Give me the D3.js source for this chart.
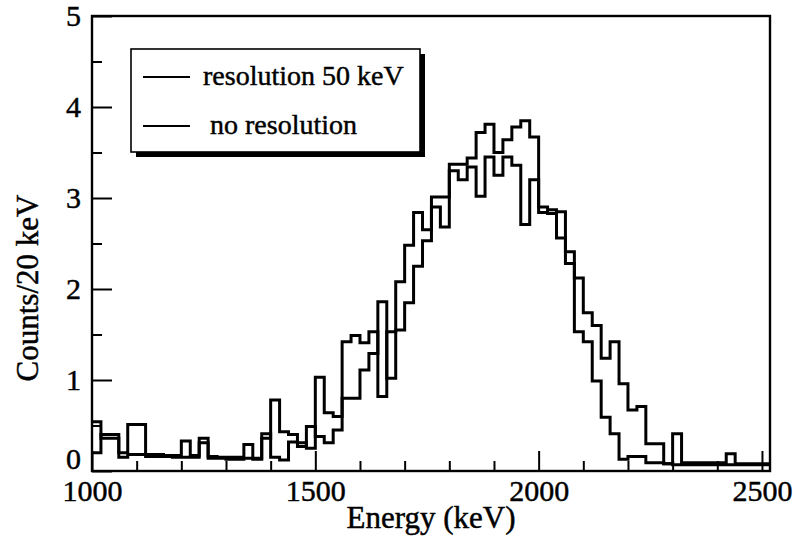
<!DOCTYPE html>
<html>
<head>
<meta charset="utf-8">
<script src="https://cdn.jsdelivr.net/npm/d3@7"></script>
<style>
  body { margin: 0; background: #fff; }
  svg text { font-family: "Liberation Serif", "Times New Roman", serif; fill: #000; stroke: #000; stroke-width: 0.45px; }
</style>
</head>
<body>
<svg id="chart" width="793" height="544"></svg>
<script>
// Energy spectra in 20 keV bins starting at 1000 keV
const binStart = 1000;
const binWidth = 20;

const resolution50 = [
  0.54, 0.36, 0.36, 0.15, 0.18, 0.18, 0.16, 0.16, 0.16, 0.15,
  0.15, 0.15, 0.31, 0.14, 0.14, 0.13, 0.13, 0.14, 0.13, 0.36,
  0.78, 0.43, 0.40, 0.31, 0.25, 1.03, 0.64, 0.60, 1.42, 1.49,
  1.41, 1.53, 0.82, 1.53, 2.08, 2.48, 2.84, 2.65, 3.01, 3.01,
  3.37, 3.37, 3.44, 3.72, 3.81, 3.50, 3.64, 3.78, 3.85, 3.67,
  2.90, 2.87, 2.85, 2.41, 2.12, 1.74, 1.60, 1.24, 1.42, 0.96,
  0.67, 0.71, 0.30, 0.30, 0.08, 0.41, 0.09, 0.09, 0.09, 0.09,
  0.09, 0.19, 0.08, 0.08, 0.08, 0.08
];

const noResolution = [
  0.20, 0.40, 0.40, 0.20, 0.51, 0.51, 0.18, 0.18, 0.17, 0.17,
  0.33, 0.17, 0.36, 0.16, 0.15, 0.15, 0.15, 0.29, 0.14, 0.41,
  0.15, 0.12, 0.32, 0.27, 0.49, 0.38, 0.31, 0.45, 0.80, 0.80,
  1.11, 1.29, 1.86, 1.02, 1.55, 1.85, 2.25, 2.53, 2.90, 2.68,
  3.30, 3.20, 3.34, 3.02, 3.45, 3.25, 3.45, 3.36, 2.71, 3.20,
  2.84, 2.83, 2.56, 2.28, 1.53, 1.42, 0.99, 0.59, 0.41, 0.13,
  0.16, 0.16, 0.09, 0.09, 0.08, 0.07, 0.07, 0.07, 0.07, 0.07,
  0.07, 0.07, 0.07, 0.07, 0.07, 0.07
];

const xMajorTicks = [1000, 1500, 2000, 2500];
const xMinorTicks = [1100, 1200, 1300, 1400, 1600, 1700, 1800, 1900, 2100, 2200, 2300, 2400];
const yMajorTicks = [0, 1, 2, 3, 4, 5];
const yMinorTicks = [0.5, 1.5, 2.5, 3.5, 4.5];
const seriesLabels = ["resolution 50 keV", " no resolution"];

const svg = d3.select("#chart");
const plotLeft = 92, plotRight = 770, plotTop = 16, plotBottom = 471;

const x = d3.scaleLinear().domain([1000, 2518]).range([plotLeft, plotRight]);
const y = d3.scaleLinear().domain([0, 5]).range([plotBottom, plotTop]);

svg.append("clipPath").attr("id", "plotClip")
  .append("rect")
  .attr("x", plotLeft).attr("y", plotTop)
  .attr("width", plotRight - plotLeft).attr("height", plotBottom - plotTop);

// step outline for one histogram
function stepPoints(values) {
  const pts = values.map((v, i) => [binStart + i * binWidth, v]);
  pts.push([binStart + values.length * binWidth, values[values.length - 1]]);
  return pts;
}
const stepLine = d3.line()
  .x(d => x(d[0]))
  .y(d => y(d[1]))
  .curve(d3.curveStepAfter);

const plot = svg.append("g").attr("clip-path", "url(#plotClip)");
[resolution50, noResolution].forEach(vals => {
  plot.append("path")
    .attr("d", stepLine(stepPoints(vals)))
    .attr("fill", "none")
    .attr("stroke", "#000")
    .attr("stroke-width", 3)
    .attr("stroke-linejoin", "miter");
});

// axes with inward ticks
const tickFont = 30;
const xMajor = svg.append("g").attr("transform", `translate(0,${plotBottom})`)
  .call(d3.axisBottom(x).tickValues(xMajorTicks).tickSize(-20).tickPadding(9).tickFormat(d3.format("d")));
const xMinor = svg.append("g").attr("transform", `translate(0,${plotBottom})`)
  .call(d3.axisBottom(x).tickValues(xMinorTicks).tickSize(-10).tickFormat(""));
const yMajor = svg.append("g").attr("transform", `translate(${plotLeft},0)`)
  .call(d3.axisLeft(y).tickValues(yMajorTicks).tickSize(-20).tickPadding(11).tickFormat(d3.format("d")));
const yMinor = svg.append("g").attr("transform", `translate(${plotLeft},0)`)
  .call(d3.axisLeft(y).tickValues(yMinorTicks).tickSize(-10).tickFormat(""));

[xMajor, xMinor, yMajor, yMinor].forEach(g => {
  g.select(".domain").remove();
  g.selectAll(".tick line").attr("stroke", "#000").attr("stroke-width", 2);
  g.selectAll(".tick text").attr("font-size", tickFont)
    .style("font-family", "'Liberation Serif', 'Times New Roman', serif").attr("fill", "#000");
});
yMajor.selectAll(".tick text").filter(d => d === 0).attr("dy", "-0.1em");

// frame
svg.append("rect")
  .attr("x", plotLeft).attr("y", plotTop)
  .attr("width", plotRight - plotLeft).attr("height", plotBottom - plotTop)
  .attr("fill", "none").attr("stroke", "#000").attr("stroke-width", 2.4);

// axis titles
svg.append("text")
  .attr("x", 431).attr("y", 528)
  .attr("text-anchor", "middle").attr("font-size", 31)
  .text("Energy (keV)");
svg.append("text")
  .attr("transform", "translate(38,288) rotate(-90)")
  .attr("text-anchor", "middle").attr("font-size", 31)
  .text("Counts/20 keV");

// legend with drop shadow
const lg = svg.append("g");
const lx = 131, ly = 49, lw = 289, lh = 103;
lg.append("rect").attr("x", lx + 5).attr("y", ly + 5).attr("width", lw).attr("height", lh).attr("fill", "#000");
lg.append("rect").attr("x", lx).attr("y", ly).attr("width", lw).attr("height", lh)
  .attr("fill", "#fff").attr("stroke", "#000").attr("stroke-width", 1.6);
const rowY = [77, 126];
seriesLabels.forEach((label, i) => {
  lg.append("line").attr("x1", 143).attr("x2", 190).attr("y1", rowY[i]).attr("y2", rowY[i])
    .attr("stroke", "#000").attr("stroke-width", 2.2);
  lg.append("text").attr("x", 203).attr("y", rowY[i] + 8)
    .attr("font-size", 28).attr("xml:space", "preserve").style("white-space", "pre")
    .text(label);
});
</script>
</body>
</html>
